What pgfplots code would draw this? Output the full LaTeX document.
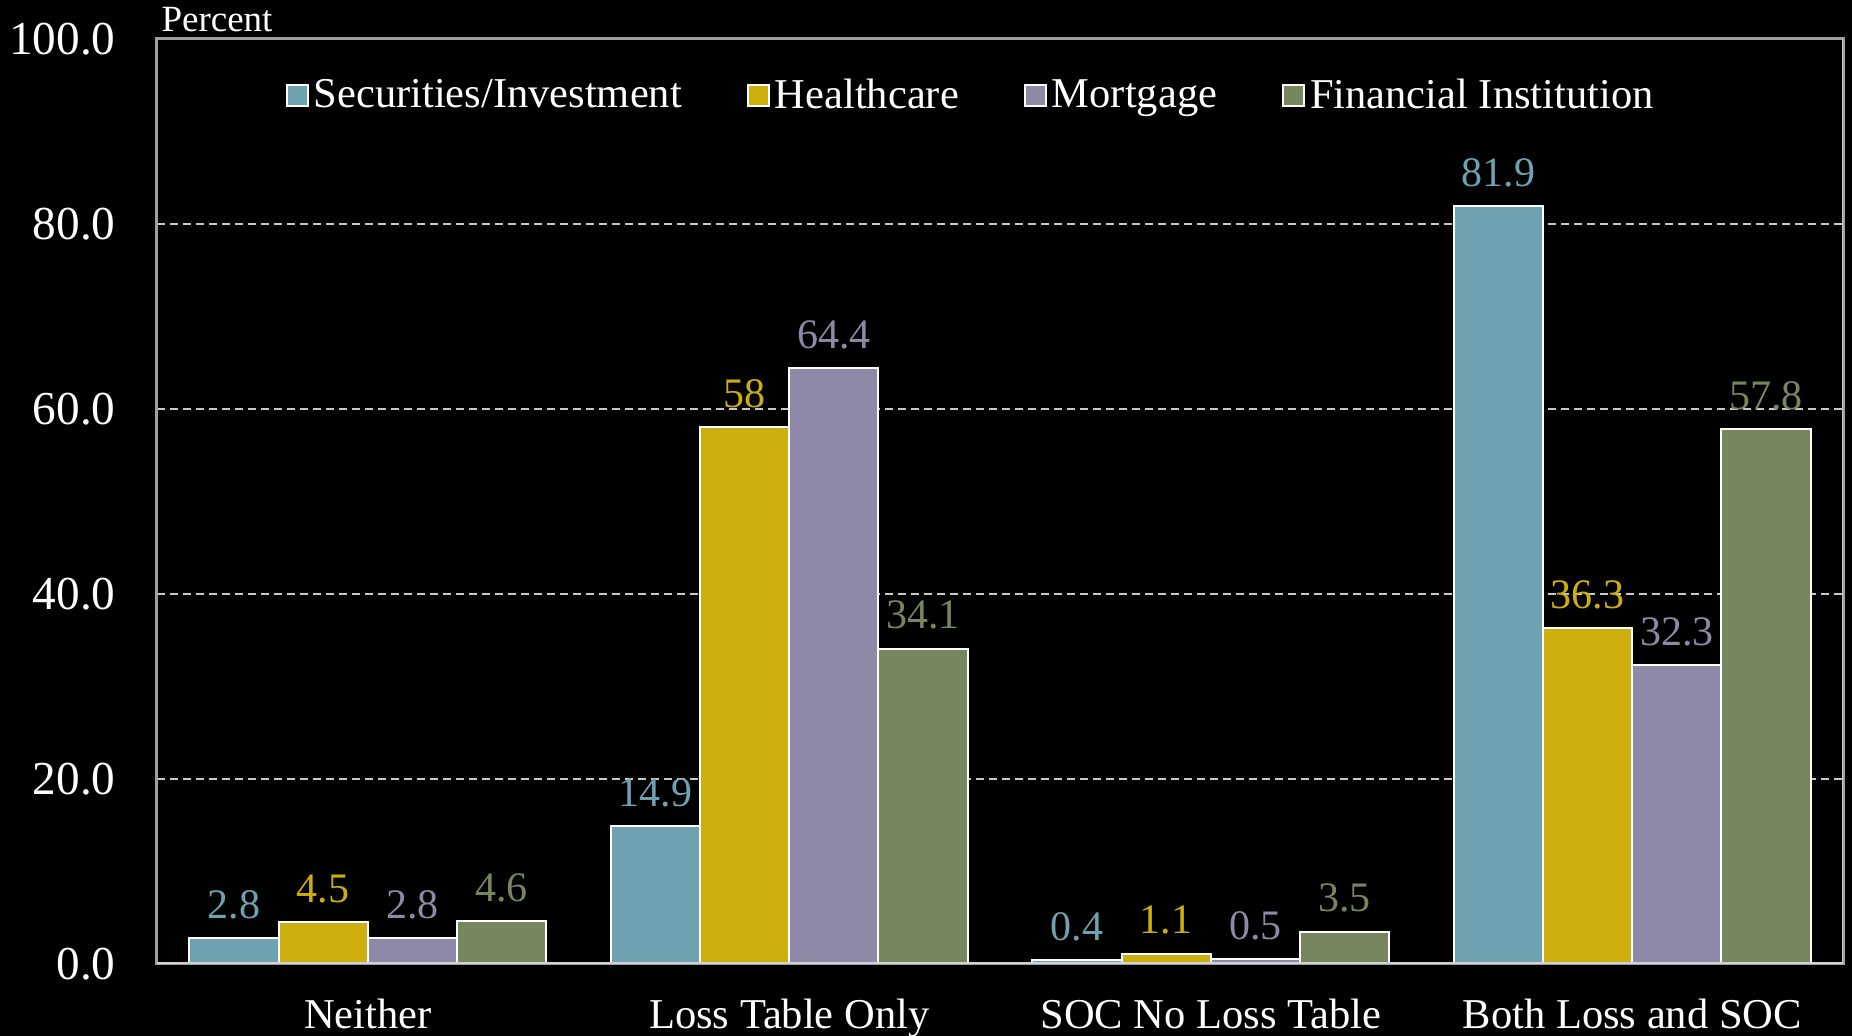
\documentclass[border=0pt]{standalone}
\usepackage{fontspec}
\setmainfont{Liberation Serif}
\usepackage{pgfplots}
\pgfplotsset{compat=1.18}

\definecolor{cSec}{HTML}{6FA2B0}
\definecolor{cHea}{HTML}{CCAE0E}
\definecolor{cMor}{HTML}{8D89A6}
\definecolor{cFin}{HTML}{788660}
\definecolor{cGrid}{HTML}{C8C8C8}

% 1 px of the reference = 0.4pt
\begin{document}
\begin{tikzpicture}
\path[use as bounding box, fill=black] (0,0) rectangle (740.8pt,414.4pt);
\begin{axis}[
  at={(62.8pt,28.8pt)}, anchor=south west,
  scale only axis, width=674.4pt, height=370pt,
  ybar=0pt, bar width=0.2115,
  xmin=-0.5, xmax=3.5, ymin=0, ymax=100,
  xtick={0,1,2,3},
  xticklabels={Neither, Loss Table Only, SOC No Loss Table, Both Loss and SOC},
  ytick={0,20,40,60,80,100},
  yticklabels={0.0,20.0,40.0,60.0,80.0,100.0},
  major tick length=0pt,
  ymajorgrids, grid style={cGrid, line width=0.6pt, dash pattern=on 3.2pt off 2pt},
  axis line style={gray!75, line width=1.2pt},
  xticklabel style={font=\fontsize{17}{20}\selectfont, text=white, anchor=base, yshift=-25.6pt},
  yticklabel style={font=\fontsize{18.9}{22}\selectfont, text=white, anchor=east, inner sep=0pt, xshift=-16.4pt},
  point meta=explicit symbolic,
  nodes near coords,
  every node near coord/.append style={font=\fontsize{16.8}{20}\selectfont, anchor=center, yshift=13.4pt},
  legend columns=4,
  legend style={at={(0.4835,0.939)}, anchor=center, draw=none, fill=black,
    text=white, font=\fontsize{17}{20}\selectfont,
    /tikz/every even column/.append style={column sep=24pt}},
  legend image code/.code={\draw[#1, draw=white, line width=0.8pt] (-3.6pt,-4.2pt) rectangle (4.8pt,4.2pt);},
  every axis plot/.append style={draw=white, line width=0.8pt},
]
\addplot[fill=cSec, every node near coord/.append style={text=cSec}] coordinates {(0,2.8)[2.8] (1,14.9)[14.9] (2,0.4)[0.4] (3,81.9)[81.9]};
\addplot[fill=cHea, every node near coord/.append style={text=cHea}] coordinates {(0,4.5)[4.5] (1,58)[58] (2,1.1)[1.1] (3,36.3)[36.3]};
\addplot[fill=cMor, every node near coord/.append style={text=cMor}] coordinates {(0,2.8)[2.8] (1,64.4)[64.4] (2,0.5)[0.5] (3,32.3)[32.3]};
\addplot[fill=cFin, every node near coord/.append style={text=cFin}] coordinates {(0,4.6)[4.6] (1,34.1)[34.1] (2,3.5)[3.5] (3,57.8)[57.8]};
\legend{Securities/Investment, Healthcare, Mortgage, Financial Institution}
\draw[gray!35, line width=1.2pt] (rel axis cs:0,0) -- (rel axis cs:1,0);
\draw[gray!45, line width=1.2pt] (rel axis cs:1,0) -- (rel axis cs:1,1);
\end{axis}
\node[anchor=base west, text=white, font=\fontsize{14.8}{17}\selectfont, inner sep=0pt] at (64.4pt,401.6pt) {Percent};
\end{tikzpicture}
\end{document}
